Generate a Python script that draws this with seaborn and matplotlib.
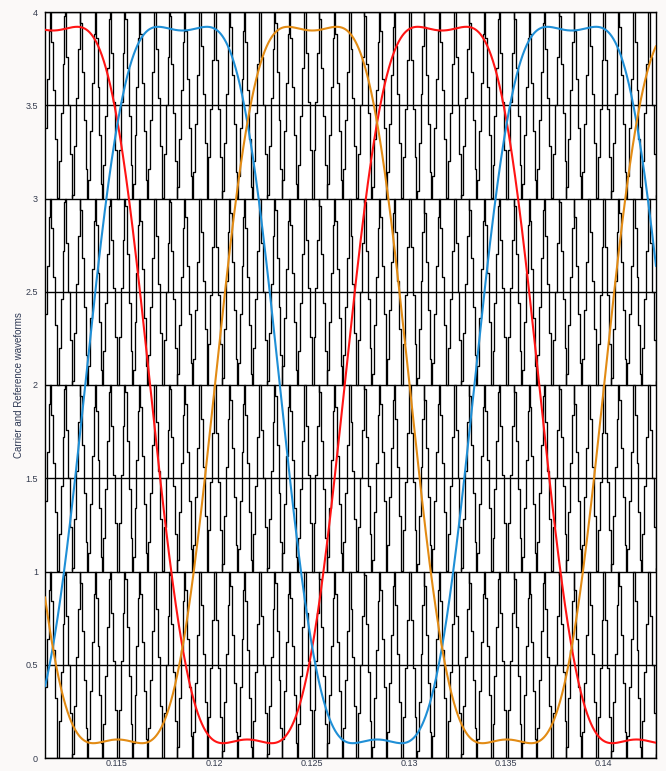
import numpy as np
import pandas as pd
import matplotlib
matplotlib.use("Agg")
import matplotlib.pyplot as plt
import seaborn as sns

# --- time window -----------------------------------------------------------
t_start, t_stop = 0.1113, 0.1427

# --- three-phase references (fundamental + third harmonic) -----------------
ref_freq = 50.0              # Hz
ref_peak_time = 0.1317       # s, crest of phase a
ref_offset = 2.0
ref_fund_amp = 2.205
ref_third_ratio = 0.138
phase_labels = ["a", "b", "c"]
phase_shift_deg = [0.0, -120.0, 120.0]
phase_colors = ["#ff1414", "#1f8fd6", "#e28b14"]

# --- level-shifted triangular carriers -------------------------------------
carrier_freq = 1300.0        # Hz
carrier_sample_time = 1e-4   # s, zero-order-hold step
carrier_bands = [0, 1, 2, 3]

# --- axes ------------------------------------------------------------------
y_ticks = [0, 0.5, 1, 1.5, 2, 2.5, 3, 3.5, 4]
y_tick_labels = ["0", "0.5", "1", "1.5", "2", "2.5", "3", "3.5", "4"]
x_ticks = [0.115, 0.12, 0.125, 0.13, 0.135, 0.14]
x_tick_labels = ["0.115", "0.12", "0.125", "0.13", "0.135", "0.14"]
y_label = "Carrier and Reference waveforms"

sns.set_theme(style="white")
plt.rcParams["font.family"] = ["Liberation Sans", "DejaVu Sans"]

# carrier samples: regular solver steps plus the crest / trough instants
k0 = int(np.ceil(t_start / carrier_sample_time))
k1 = int(np.floor(t_stop / carrier_sample_time))
t_reg = np.arange(k0, k1 + 1) * carrier_sample_time
half = 0.5 / carrier_freq
n0 = int(np.ceil(t_start / half))
n1 = int(np.floor(t_stop / half))
t_hit = np.arange(n0, n1 + 1) * half
t_car = np.unique(np.round(np.concatenate([[t_start], t_reg, t_hit, [t_stop]]), 9))
p = np.mod(t_car * carrier_freq, 1.0)
tri = np.abs(1.0 - 2.0 * p)

car_frames = []
for b in carrier_bands:
    car_frames.append(pd.DataFrame({"t": t_car, "v": tri + b, "band": b}))
car_df = pd.concat(car_frames, ignore_index=True)

# reference waveforms
t_ref = np.linspace(t_start, t_stop, 3000)
ref_frames = []
for lab, sh in zip(phase_labels, phase_shift_deg):
    th = 2 * np.pi * ref_freq * (t_ref - ref_peak_time) + np.pi / 2 + np.deg2rad(sh)
    v = ref_offset + ref_fund_amp * (np.sin(th) + ref_third_ratio * np.sin(3 * th))
    ref_frames.append(pd.DataFrame({"t": t_ref, "v": v, "phase": lab}))
ref_df = pd.concat(ref_frames, ignore_index=True)

fig = plt.figure(figsize=(6.66, 7.71), dpi=100, facecolor="#fbf9f8")
ax = fig.add_axes([45 / 666, 13 / 771, 611 / 666, 746 / 771])
ax.set_facecolor("white")

sns.lineplot(data=car_df, x="t", y="v", units="band", estimator=None, sort=False,
             color="black", lw=0.95, drawstyle="steps-post", ax=ax, zorder=2)
sns.lineplot(data=ref_df, x="t", y="v", hue="phase", palette=phase_colors,
             estimator=None, sort=False, lw=1.5, ax=ax, legend=False, zorder=4)

ax.set_xlim(t_start, t_stop)
ax.set_ylim(0, 4)
ax.set_xticks(x_ticks)
ax.set_xticklabels(x_tick_labels)
ax.set_yticks(y_ticks)
ax.set_yticklabels(y_tick_labels)
ax.grid(axis="y", color="black", lw=1.0, zorder=3)
ax.grid(axis="x", visible=False)
ax.set_axisbelow(False)
ax.set_xlabel("")
ax.set_ylabel(y_label, fontsize=7, color="#2f3a55", labelpad=1)
ax.tick_params(axis="y", labelsize=6.5, labelcolor="#333a4d", length=3,
               width=0.8, color="black", direction="out", pad=2)
ax.tick_params(axis="x", labelsize=6.5, labelcolor="#333a4d", length=0, pad=1)
for s in ax.spines.values():
    s.set_color("black")
    s.set_linewidth(1.0)
    s.set_visible(True)

fig.savefig("out.png", dpi=100, facecolor=fig.get_facecolor())
